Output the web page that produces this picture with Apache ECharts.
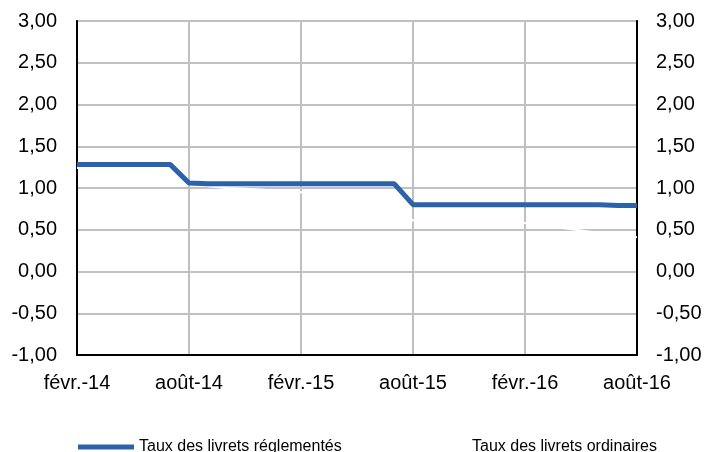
<!DOCTYPE html>
<html><head><meta charset="utf-8">
<script src="https://cdn.jsdelivr.net/npm/echarts@6/dist/echarts.min.js"></script>
<style>html,body{margin:0;padding:0;background:#fff}#c{width:705px;height:452px}</style>
</head><body><div id="c"></div>
<script>
const categories = ["févr.-14","mars-14","avr.-14","mai-14","juin-14","juil.-14","août-14","sept.-14","oct.-14","nov.-14","déc.-14","janv.-15","févr.-15","mars-15","avr.-15","mai-15","juin-15","juil.-15","août-15","sept.-15","oct.-15","nov.-15","déc.-15","janv.-16","févr.-16","mars-16","avr.-16","mai-16","juin-16","juil.-16","août-16"];
const reglementes = [1.28,1.28,1.28,1.28,1.28,1.28,1.06,1.05,1.05,1.05,1.05,1.05,1.05,1.05,1.05,1.05,1.05,1.05,0.80,0.80,0.80,0.80,0.80,0.80,0.80,0.80,0.80,0.80,0.80,0.79,0.79];
const ordinaires = [1.24,1.24,1.23,1.23,1.22,1.21,1.07,1.02,1.00,0.99,0.98,0.96,0.95,0.93,0.91,0.88,0.85,0.82,0.61,0.61,0.60,0.60,0.59,0.58,0.58,0.55,0.52,0.49,0.46,0.44,0.41];
const seriesNames = ["Taux des livrets réglementés","Taux des livrets ordinaires"];
const yMin = -1, yMax = 3, yStep = 0.5;

const chart = echarts.init(document.getElementById('c'), null, {renderer:'canvas'});
const font = 'Liberation Sans, Arial, sans-serif';
const fmt = v => v.toFixed(2).replace('.', ',');
const yAxisBase = {
  type:'value', min:yMin, max:yMax, interval:yStep,
  axisLine:{show:true, lineStyle:{color:'#000', width:2}},
  axisTick:{show:false},
  axisLabel:{formatter:fmt, color:'#000', fontSize:20, fontFamily:font}
};
chart.setOption({
  animation:false,
  backgroundColor:'#fff',
  grid:{left:77, right:68, top:21, bottom:97, show:true, borderColor:'#595959', borderWidth:2},
  legend:[
    {data:[{name:seriesNames[0], icon:'rect', itemStyle:{color:'#2B62AA'}}], left:78, top:439, padding:0, itemWidth:56, itemHeight:5, itemGap:0,
     textStyle:{color:'#000', fontSize:16, fontFamily:font}},
    {data:[{name:seriesNames[1], icon:'rect', itemStyle:{color:'#ffffff'}}], left:411, top:439, padding:0, itemWidth:56, itemHeight:5, itemGap:0,
     textStyle:{color:'#000', fontSize:16, fontFamily:font}}
  ],
  xAxis:{
    type:'category', data:categories, boundaryGap:false,
    axisLine:{show:true, onZero:false, lineStyle:{color:'#000', width:2}},
    axisTick:{show:false},
    axisLabel:{interval:5, color:'#000', fontSize:20, fontFamily:font, margin:18},
    splitLine:{show:true, interval:5, lineStyle:{color:'#c0c0c0', width:2}}
  },
  yAxis:[
    Object.assign({}, yAxisBase, {position:'left', splitLine:{show:true, lineStyle:{color:'#c0c0c0', width:2}},
      axisLabel:Object.assign({}, yAxisBase.axisLabel, {margin:20})}),
    Object.assign({}, yAxisBase, {position:'right', splitLine:{show:false},
      axisLabel:Object.assign({}, yAxisBase.axisLabel, {margin:19})})
  ],
  series:[
    {name:seriesNames[0], type:'line', data:reglementes, symbol:'none', z:5,
     lineStyle:{color:'#2B62AA', width:5}, itemStyle:{color:'#2B62AA'}},
    {name:seriesNames[1], type:'line', data:ordinaires, symbol:'none', z:3,
     lineStyle:{color:'#ffffff', width:2}, itemStyle:{color:'#ffffff'}}
  ]
});
</script></body></html>
